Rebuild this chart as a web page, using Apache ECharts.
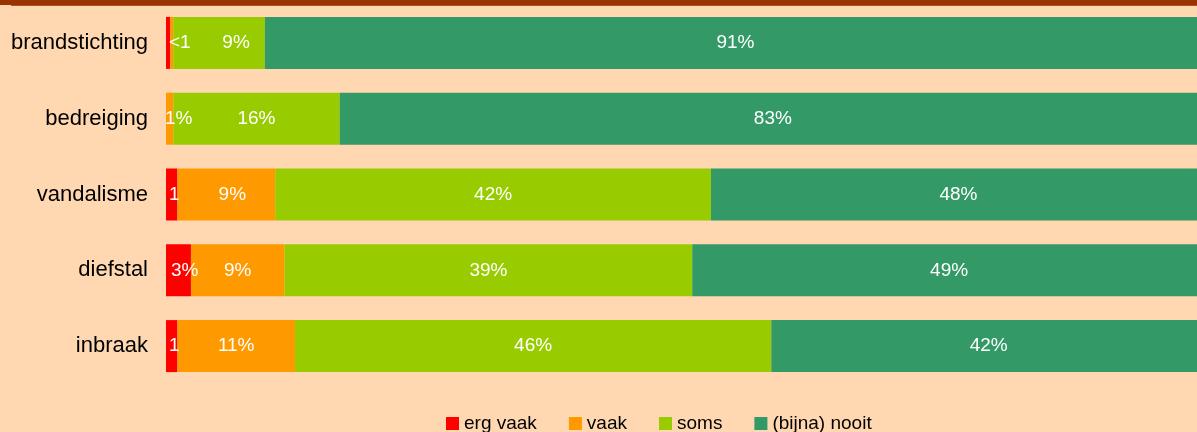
<!DOCTYPE html>
<html>
<head>
<meta charset="utf-8">
<script src="https://cdn.jsdelivr.net/npm/echarts@6/dist/echarts.min.js"></script>
<style>
  html, body { margin: 0; padding: 0; background: #FFD8B2; overflow: hidden; }
  #chart { width: 1197px; height: 432px; }
</style>
</head>
<body>
<div id="chart"></div>
<script>
// ---- data ----
const categories = ['brandstichting', 'bedreiging', 'vandalisme', 'diefstal', 'inbraak'];
const seriesNames = ['erg vaak', 'vaak', 'soms', '(bijna) nooit'];
const ergVaak = [0.4, 0, 1.1, 2.4, 1.1];
const vaak = [0.3, 0.7, 9.4, 9.0, 11.3];
const soms = [8.8, 16.0, 41.9, 39.2, 45.8];
const nooit = [90.5, 83.3, 47.6, 49.4, 41.8];
const ergVaakLabels = ['<1', '', '1', '3%', '1'];
const vaakLabels = ['', '1%', '9%', '9%', '11%'];
const somsLabels = ['9%', '16%', '42%', '39%', '46%'];
const nooitLabels = ['91%', '83%', '48%', '49%', '42%'];

// ---- styling ----
const colors = ['#FF0000', '#FF9900', '#99CC00', '#339966'];
const FONT = '"Liberation Sans", Arial, sans-serif';
// label placement tweaks per series-category
const labelPos = {
  '0-0': { position: 'insideLeft', distance: 3 },
  '0-2': { position: 'insideLeft', distance: 3 },
  '0-3': { position: 'insideLeft', distance: 5 },
  '0-4': { position: 'insideLeft', distance: 3 },
  '1-1': { position: 'insideLeft', distance: -1 }
};
const labelShift = { '1-2': 6, '2-0': 17 };

const values = [ergVaak, vaak, soms, nooit];
const labels = [ergVaakLabels, vaakLabels, somsLabels, nooitLabels];

const series = seriesNames.map((name, si) => ({
  name: name,
  type: 'bar',
  stack: 'total',
  barWidth: 52,
  itemStyle: { color: colors[si] },
  label: {
    show: true,
    position: 'inside',
    color: '#FFFFFF',
    fontSize: 19,
    fontFamily: FONT
  },
  labelLayout: function (params) {
    const dx = labelShift[si + '-' + params.dataIndex] || 0;
    return { dx: dx, hideOverlap: false };
  },
  data: values[si].map((v, ci) => {
    const txt = labels[si][ci];
    const extra = labelPos[si + '-' + ci] || {};
    return {
      value: v,
      label: Object.assign({ show: txt !== '', formatter: txt }, extra)
    };
  })
}));

const chart = echarts.init(document.getElementById('chart'), null, { renderer: 'canvas' });
chart.setOption({
  backgroundColor: '#FFD8B2',
  animation: false,
  grid: { left: 166, width: 1040, top: 5, bottom: 48, containLabel: false, outerBoundsMode: 'none' },
  xAxis: {
    type: 'value',
    min: 0,
    max: 100,
    show: false
  },
  yAxis: {
    type: 'category',
    data: categories,
    inverse: true,
    axisLine: { show: false },
    axisTick: { show: false },
    axisLabel: {
      color: '#000000',
      fontSize: 22,
      fontFamily: FONT,
      margin: 18
    }
  },
  legend: {
    data: seriesNames,
    left: 446,
    top: 414,
    padding: 0,
    icon: 'rect',
    itemWidth: 13,
    itemHeight: 13,
    itemGap: 32,
    textStyle: { color: '#000000', fontSize: 19, fontFamily: FONT }
  },
  graphic: [
    { type: 'rect', left: 0, top: 0, shape: { width: 1197, height: 5 }, style: { fill: '#993300' }, silent: true },
    { type: 'rect', left: 11, top: 5, shape: { width: 1186, height: 1 }, style: { fill: '#B4521A' }, silent: true }
  ],
  series: series
});
</script>
</body>
</html>
